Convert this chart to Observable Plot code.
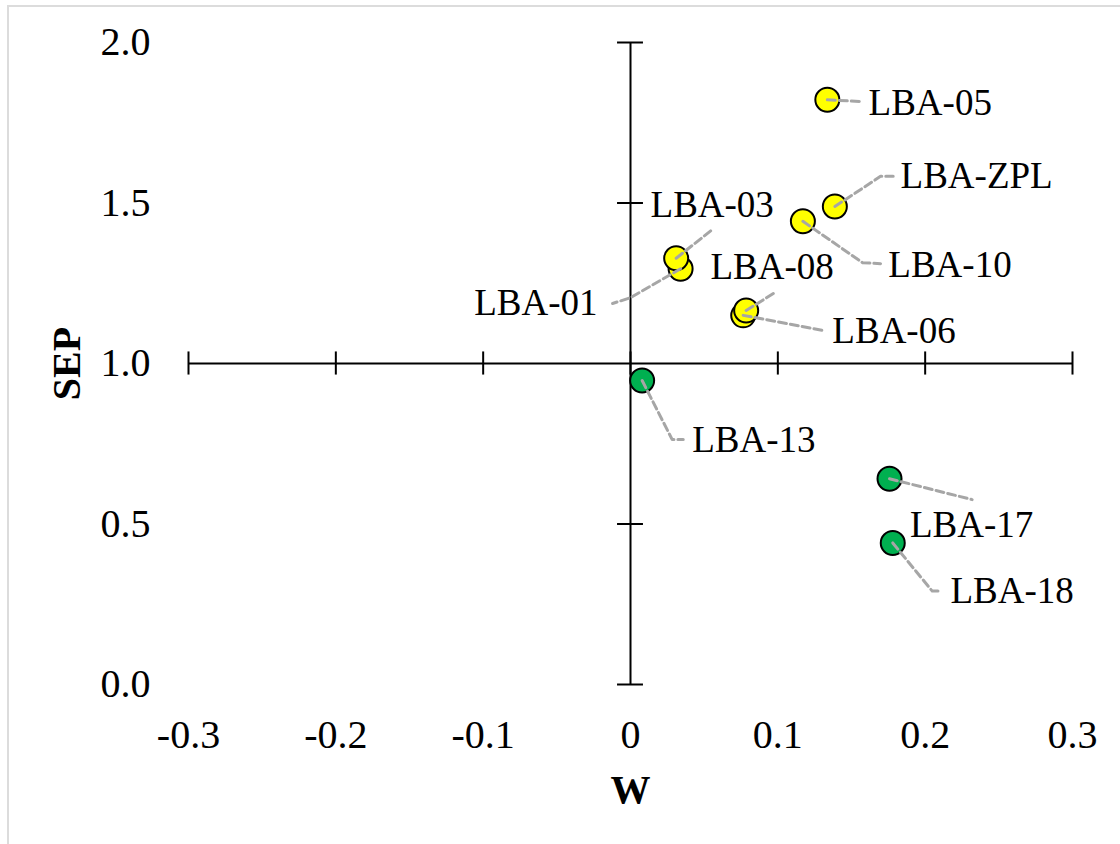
<!DOCTYPE html>
<html>
<head>
<meta charset="utf-8">
<script src="https://cdn.jsdelivr.net/npm/d3@7"></script>
<script src="https://cdn.jsdelivr.net/npm/@observablehq/plot@0.6"></script>
<style>
  html, body { margin: 0; padding: 0; background: #fff; overflow: hidden; width: 1120px; height: 844px; }
  #frame { position: absolute; left: 7px; top: 5px; width: 2000px; height: 2000px; border: 2px solid #dcdcdc; }
  #chart { position: absolute; left: 0; top: 0; }
</style>
</head>
<body>
<div id="frame"></div>
<div id="chart"></div>
<script>
// ---- data ----
const names = ["LBA-05", "LBA-ZPL", "LBA-10", "LBA-01", "LBA-03", "LBA-06", "LBA-08", "LBA-13", "LBA-17", "LBA-18"];
const W     = [0.1336, 0.1387, 0.1170, 0.0340, 0.0310, 0.0765, 0.0785, 0.0079, 0.1758, 0.1780];
const SEP   = [1.8215, 1.4890, 1.4430, 1.2950, 1.3280, 1.1500, 1.1650, 0.9470, 0.6410, 0.4410];
const group = ["high", "high", "high", "high", "high", "high", "high", "low", "low", "low"];

// label anchor positions (data units) and which side the text extends to
const labelX = [0.1616, 0.1833, 0.1750, -0.0224, 0.0136, 0.1370, 0.0543, 0.0419, 0.1897, 0.2172];
const labelY = [1.8100, 1.5840, 1.3050, 1.1870, 1.4920, 1.1000, 1.2990, 0.7600, 0.4953, 0.2900];
const labelSide = ["start", "start", "start", "end", "start", "start", "start", "start", "start", "start"];
// leader-line bend points (data units), from the point outward
const leaderX = [[0.1560], [0.1697, 0.1783], [0.1575, 0.1697], [0.0000, -0.0122], [0.0563], [0.1303], [0.0970], [0.0283, 0.0358], [0.2319], [0.2048, 0.2110]];
const leaderY = [[1.8160], [1.5830, 1.5830], [1.3140, 1.3110], [1.2050, 1.1870], [1.4200], [1.1030], [1.2180], [0.7630, 0.7630], [0.5760], [0.2910, 0.2910]];

const xTicks = [-0.3, -0.2, -0.1, 0, 0.1, 0.2, 0.3];
const yTicks = [0, 0.5, 1, 1.5, 2];

// ---- build tables ----
const points = names.map((n, i) => ({name: n, W: W[i], SEP: SEP[i], group: group[i],
  lx: labelX[i], ly: labelY[i], side: labelSide[i]}));
const leaders = [];
names.forEach((n, i) => {
  leaders.push({name: n, x: W[i], y: SEP[i]});
  leaderX[i].forEach((x, j) => leaders.push({name: n, x, y: leaderY[i][j]}));
});

const fmtX = d => d === 0 ? "0" : d.toFixed(1);
const fmtY = d => d.toFixed(1);
const font = "'Liberation Serif', 'Times New Roman', serif";

const chart = Plot.plot({
  width: 1120,
  height: 844,
  marginLeft: 188,
  marginRight: 48,
  marginTop: 42,
  marginBottom: 160,
  x: {domain: [-0.3, 0.3]},
  y: {domain: [0, 2]},
  color: {domain: ["high", "low"], range: ["#ffff00", "#00b050"]},
  style: {fontFamily: font, fontSize: "40px", color: "black", background: "transparent"},
  marks: [
    Plot.axisX({ticks: xTicks, tickSize: 0, tickPadding: 35, tickFormat: fmtX, label: null, fontSize: 40}),
    Plot.axisY({ticks: yTicks, tickSize: 0, tickPadding: 38, tickFormat: fmtY, label: null, fontSize: 40}),
    Plot.ruleY([1], {x1: -0.3, x2: 0.3, stroke: "black", strokeWidth: 2}),
    Plot.ruleX([0], {y1: 0, y2: 2, stroke: "black", strokeWidth: 2}),
    Plot.ruleX(xTicks, {x: d => d, y1: 1 - 0.036, y2: 1 + 0.036, stroke: "black", strokeWidth: 2}),
    Plot.ruleY(yTicks.filter(d => d !== 1), {y: d => d, x1: -0.0088, x2: 0.0088, stroke: "black", strokeWidth: 2}),
    Plot.dot(points, {x: "W", y: "SEP", r: 12, fill: "group", stroke: "black", strokeWidth: 2}),
    Plot.line(leaders, {x: "x", y: "y", z: "name", stroke: "#a6a6a6", strokeWidth: 3, strokeDasharray: "8,4", curve: "linear"}),
    Plot.text(points.filter(d => d.side === "start"), {x: "lx", y: "ly", text: "name", textAnchor: "start", lineAnchor: "middle", fontSize: 37, fill: "black"}),
    Plot.text(points.filter(d => d.side === "end"), {x: "lx", y: "ly", text: "name", textAnchor: "end", lineAnchor: "middle", fontSize: 37, fill: "black"}),
    Plot.text(["W"], {text: d => d, frameAnchor: "bottom", dy: 106, textAnchor: "middle", lineAnchor: "middle", fontSize: 40, fontWeight: "bold", fill: "black"}),
    Plot.text(["SEP"], {text: d => d, frameAnchor: "left", dx: -121, rotate: -90, textAnchor: "middle", lineAnchor: "middle", fontSize: 40, fontWeight: "bold", fill: "black"})
  ]
});
document.getElementById("chart").appendChild(chart);
</script>
</body>
</html>
